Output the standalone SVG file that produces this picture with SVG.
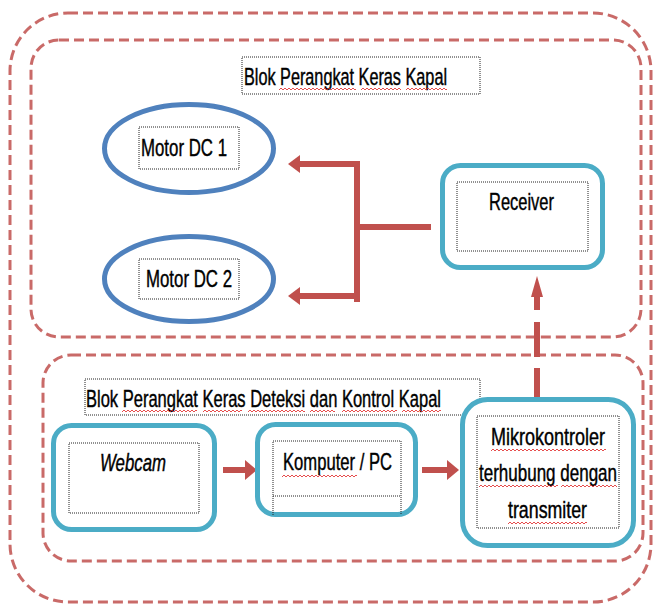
<svg xmlns="http://www.w3.org/2000/svg" width="658" height="605" viewBox="0 0 658 605">
<style>
.cont{fill:none;stroke:#C0504D;stroke-opacity:0.85;stroke-width:3;stroke-dasharray:10 5}
.dot{fill:none;stroke:#222;stroke-width:1;stroke-dasharray:1 1}
.box{fill:#fff;stroke:#4BACC6;stroke-width:5}
.ell{fill:#fff;stroke:#4F81BD;stroke-width:5}
.conn{fill:none;stroke:#C0504D;stroke-width:6}
.t{font-family:"Liberation Sans",Arial,sans-serif;font-size:17px;fill:#000;stroke:#000;stroke-width:0.3;text-anchor:middle}
.wv{fill:url(#wavy)}
</style>
<defs>
<pattern id="wavy" width="4" height="4" patternUnits="userSpaceOnUse"><path d="M0,3 L2,1 L4,3" fill="none" stroke="#E02020" stroke-width="0.8"/></pattern>
<marker id="head" markerUnits="userSpaceOnUse" viewBox="0 0 12 20" markerWidth="12" markerHeight="20" refX="0" refY="10" orient="auto"><path d="M0,0 L12,10 L0,20 z" fill="#C0504D"/></marker>
<marker id="headS" markerUnits="userSpaceOnUse" viewBox="0 0 12 18" markerWidth="12" markerHeight="18" refX="0" refY="9" orient="auto"><path d="M0,0 L12,9 L0,18 z" fill="#C0504D"/></marker>
<marker id="headT" markerUnits="userSpaceOnUse" viewBox="0 0 21 12" markerWidth="21" markerHeight="12" refX="0" refY="6" orient="auto"><path d="M0,0 L21,6 L0,12 z" fill="#C0504D"/></marker>
</defs>

<g id="containers">
<rect class="cont" x="10" y="13" width="641" height="589" rx="58"/>
<rect class="cont" x="31" y="40" width="610" height="297" rx="28"/>
<rect class="cont" x="43" y="355" width="600" height="206" rx="28"/>
</g>

<g id="title-kapal">
<rect class="dot" x="242" y="57" width="238" height="37"/>
<text class="t" transform="translate(345.5,85) scale(1,1.45)" textLength="203" lengthAdjust="spacingAndGlyphs">Blok Perangkat Keras Kapal</text>
<rect class="wv" transform="translate(279,87)" width="77" height="4"/>
<rect class="wv" transform="translate(361,87)" width="40" height="4"/>
<rect class="wv" transform="translate(406,87)" width="41" height="4"/>
</g>

<g id="title-deteksi">
<rect class="dot" x="85" y="379" width="395" height="36"/>
<text class="t" transform="translate(263.5,407) scale(1,1.45)" textLength="355" lengthAdjust="spacingAndGlyphs">Blok Perangkat Keras Deteksi dan Kontrol Kapal</text>
<rect class="wv" transform="translate(122,409)" width="75" height="4"/>
<rect class="wv" transform="translate(203,409)" width="39" height="4"/>
<rect class="wv" transform="translate(248,409)" width="57" height="4"/>
<rect class="wv" transform="translate(310,409)" width="25" height="4"/>
<rect class="wv" transform="translate(342,409)" width="55" height="4"/>
<rect class="wv" transform="translate(402,409)" width="39" height="4"/>
</g>

<g id="connectors">
<path class="conn" d="M431,227 H357"/>
<path class="conn" d="M357,161 V302"/>
<path class="conn" d="M357,164 H300" marker-end="url(#headS)"/>
<path class="conn" d="M357,296 H300" marker-end="url(#headS)"/>
<path class="conn" d="M223,470 H245" marker-end="url(#head)"/>
<path class="conn" d="M422,470 H447" marker-end="url(#head)"/>
<path class="conn" d="M537,397 V297" stroke-width="5" stroke-dasharray="29 11 35 12 13" marker-end="url(#headT)"/>
</g>

<g id="motor-dc-1">
<ellipse class="ell" cx="189" cy="148.5" rx="84.5" ry="44"/>
<rect class="dot" x="139" y="127" width="100" height="42"/>
<text class="t" transform="translate(184,156) scale(1,1.45)" textLength="86" lengthAdjust="spacingAndGlyphs">Motor DC 1</text>
</g>

<g id="motor-dc-2">
<ellipse class="ell" cx="189" cy="279" rx="84.5" ry="42.5"/>
<rect class="dot" x="139" y="259" width="100" height="40"/>
<text class="t" transform="translate(189,287) scale(1,1.45)" textLength="86" lengthAdjust="spacingAndGlyphs">Motor DC 2</text>
</g>

<g id="receiver">
<rect class="box" x="442.5" y="165.5" width="160" height="102" rx="18"/>
<rect class="dot" x="457" y="182" width="131" height="69"/>
<text class="t" transform="translate(521.5,210) scale(1,1.45)" textLength="65" lengthAdjust="spacingAndGlyphs">Receiver</text>
</g>

<g id="webcam">
<rect class="box" x="53.5" y="425.5" width="161" height="104" rx="18"/>
<rect class="dot" x="69" y="443" width="130" height="70"/>
<text class="t" font-style="italic" transform="translate(133,471) scale(1,1.45)" textLength="66" lengthAdjust="spacingAndGlyphs">Webcam</text>
</g>

<g id="komputer">
<rect class="box" x="257.5" y="424.5" width="158" height="90" rx="18"/>
<path class="dot" d="M273,515 V441 H401 V515"/>
<path class="dot" d="M273,496 H401" stroke-width="2"/>
<text class="t" transform="translate(337.5,470) scale(1,1.45)" textLength="109" lengthAdjust="spacingAndGlyphs">Komputer / PC</text>
<rect class="wv" transform="translate(282,474)" width="75" height="4"/>
</g>

<g id="mikrokontroler">
<rect class="box" x="462.5" y="399.5" width="171" height="146" rx="25"/>
<rect class="dot" x="477" y="416" width="142" height="112"/>
<text class="t" transform="translate(548,445) scale(1,1.45)" textLength="114" lengthAdjust="spacingAndGlyphs">Mikrokontroler</text>
<text class="t" transform="translate(548,481) scale(1,1.45)" textLength="138" lengthAdjust="spacingAndGlyphs">terhubung dengan</text>
<text class="t" transform="translate(547.5,518) scale(1,1.45)" textLength="79" lengthAdjust="spacingAndGlyphs">transmiter</text>
<rect class="wv" transform="translate(491,448)" width="115" height="4"/>
<rect class="wv" transform="translate(479,484)" width="79" height="4"/>
<rect class="wv" transform="translate(561,484)" width="56" height="4"/>
<rect class="wv" transform="translate(508,521)" width="79" height="4"/>
</g>
</svg>
